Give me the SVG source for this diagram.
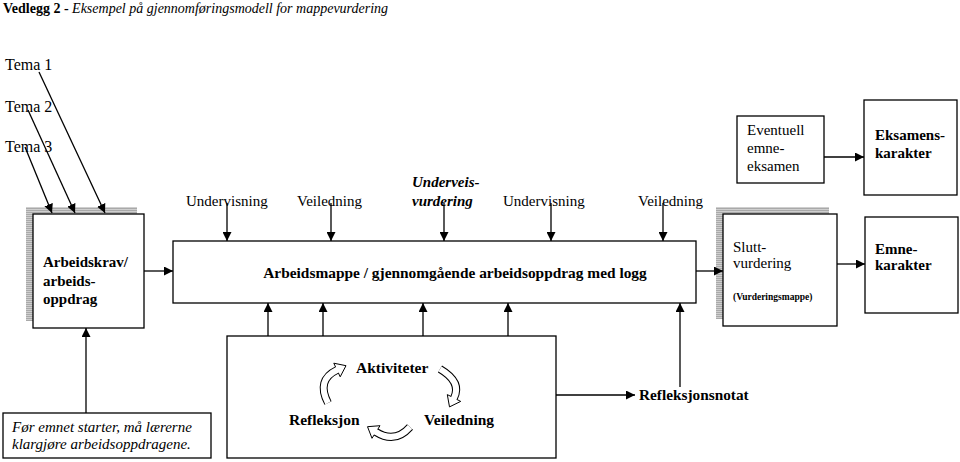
<svg xmlns="http://www.w3.org/2000/svg" width="960" height="462" viewBox="0 0 960 462">
<defs>
<pattern id="stripes" width="4" height="2" patternUnits="userSpaceOnUse">
<rect width="4" height="2" fill="#cfcfcf"/>
<rect width="4" height="1" fill="#a9a9a9"/>
</pattern>
<marker id="ah" viewBox="0 0 10 10" refX="10" refY="5" markerWidth="9" markerHeight="9" markerUnits="userSpaceOnUse" orient="auto">
<path d="M0,0 L10,5 L0,10 z" fill="#000"/>
</marker>
</defs>
<style>
text{font-family:"Liberation Serif","Times New Roman",serif;fill:#000;}
.t{font-size:15px;}
.b{font-size:15px;font-weight:bold;}
.box{fill:#fff;stroke:#000;stroke-width:1.3;}
.sh{fill:url(#stripes);}
.c{stroke:#000;stroke-width:1.3;fill:none;marker-end:url(#ah);}
.so{stroke:#000;stroke-width:8;fill:none;}
.si{stroke:#fff;stroke-width:6;fill:none;}
.hd{fill:#fff;stroke:#000;stroke-width:1;}
</style>
<rect width="960" height="462" fill="#fff"/>

<text x="3" y="13" style="font-size:14px"><tspan font-weight="bold">Vedlegg 2 - </tspan><tspan font-style="italic">Eksempel på gjennomføringsmodell for mappevurdering</tspan></text>

<g id="tema">
<text x="5" y="70" style="font-size:16px">Tema 1</text>
<text x="5" y="112" style="font-size:16px">Tema 2</text>
<text x="5" y="152" style="font-size:16px">Tema 3</text>
</g>

<g id="labels-top">
<text x="186" y="206" class="t">Undervisning</text>
<text x="297" y="206" class="t">Veiledning</text>
<text x="412" y="187" class="b" font-style="italic">Underveis-</text>
<text x="412" y="206" class="b" font-style="italic">vurdering</text>
<text x="503" y="206" class="t">Undervisning</text>
<text x="638" y="206" class="t">Veiledning</text>
</g>

<g id="arbeidskrav">
<rect x="26" y="207" width="111" height="114" class="sh"/>
<rect x="33" y="214" width="111" height="114" class="box"/>
<text x="43" y="267" class="b">Arbeidskrav/</text>
<text x="43" y="286" class="b">arbeids-</text>
<text x="43" y="304" class="b">oppdrag</text>
</g>

<g id="arbeidsmappe">
<rect x="173" y="241" width="523" height="62" class="box"/>
<text x="455" y="278" class="b" style="font-size:15.4px" text-anchor="middle">Arbeidsmappe / gjennomgående arbeidsoppdrag med logg</text>
</g>

<g id="sluttvurdering">
<rect x="716" y="207" width="113" height="112" class="sh"/>
<rect x="723" y="214" width="114" height="112" class="box"/>
<text x="733" y="252" class="t">Slutt-</text>
<text x="733" y="268" class="t">vurdering</text>
<text x="733" y="300" style="font-size:9.5px;font-weight:bold">(Vurderingsmappe)</text>
</g>

<g id="emnekarakter">
<rect x="865" y="217" width="93" height="96" class="box"/>
<text x="875" y="254" class="b">Emne-</text>
<text x="875" y="270" class="b">karakter</text>
</g>

<g id="eventuell">
<rect x="737" y="116" width="87" height="67" class="box"/>
<text x="747" y="135" class="t">Eventuell</text>
<text x="747" y="153" class="t">emne-</text>
<text x="747" y="171" class="t">eksamen</text>
</g>

<g id="eksamenskarakter">
<rect x="864" y="100" width="93" height="95" class="box"/>
<text x="875" y="140" class="b">Eksamens-</text>
<text x="875" y="158" class="b">karakter</text>
</g>

<g id="aktiviteter">
<rect x="227" y="336" width="329" height="122" class="box"/>
<text x="356" y="373" class="b" style="font-size:15.5px">Aktiviteter</text>
<text x="289" y="425" class="b" style="font-size:15.5px">Refleksjon</text>
<text x="424" y="425" class="b" style="font-size:15.5px">Veiledning</text>
<g id="cycle">
<path d="M328,403 Q316,380 337,370" class="so"/>
<polygon points="340.2,376.8 333.8,363.2 346,365.7" class="hd"/>
<path d="M328,403 Q316,380 337,370 L339,369" class="si"/>
<path d="M440,369 Q462,382 454,398" class="so"/>
<polygon points="447.3,394.6 460.7,401.4 449.5,406.9" class="hd"/>
<path d="M440,369 Q462,382 454,398 L453,400" class="si"/>
<path d="M410,427 Q395,444 376,432" class="so"/>
<polygon points="380,425.7 372,438.3 367.5,426.7" class="hd"/>
<path d="M410,427 Q395,444 376,432 L374,431" class="si"/>
</g>
</g>

<g id="note">
<rect x="3" y="413" width="208" height="45" class="box"/>
<text x="12" y="432" class="t" font-style="italic">Før emnet starter, må lærerne</text>
<text x="12" y="449" class="t" font-style="italic">klargjøre arbeidsoppdragene.</text>
</g>

<g id="refleksjonsnotat">
<text x="639" y="400" class="b" style="font-size:15.3px">Refleksjonsnotat</text>
</g>

<g id="connectors">
<line x1="39" y1="72" x2="105" y2="213" class="c"/>
<line x1="28" y1="110" x2="75" y2="213" class="c"/>
<line x1="25" y1="147" x2="52" y2="213" class="c"/>
<line x1="227" y1="203" x2="227" y2="241" class="c"/>
<line x1="331" y1="203" x2="331" y2="241" class="c"/>
<line x1="444" y1="203" x2="444" y2="241" class="c"/>
<line x1="551" y1="203" x2="551" y2="241" class="c"/>
<line x1="663" y1="203" x2="663" y2="241" class="c"/>
<line x1="144" y1="271" x2="173" y2="271" class="c"/>
<line x1="696" y1="271" x2="723" y2="271" class="c"/>
<line x1="837" y1="264" x2="865" y2="264" class="c"/>
<line x1="824" y1="157" x2="864" y2="157" class="c"/>
<line x1="86" y1="413" x2="86" y2="328" class="c"/>
<line x1="268" y1="336" x2="268" y2="303" class="c"/>
<line x1="323" y1="336" x2="323" y2="303" class="c"/>
<line x1="423" y1="336" x2="423" y2="303" class="c"/>
<line x1="508" y1="336" x2="508" y2="303" class="c"/>
<line x1="680" y1="387" x2="680" y2="303" class="c"/>
<line x1="556" y1="395" x2="635" y2="395" class="c"/>
</g>
</svg>
